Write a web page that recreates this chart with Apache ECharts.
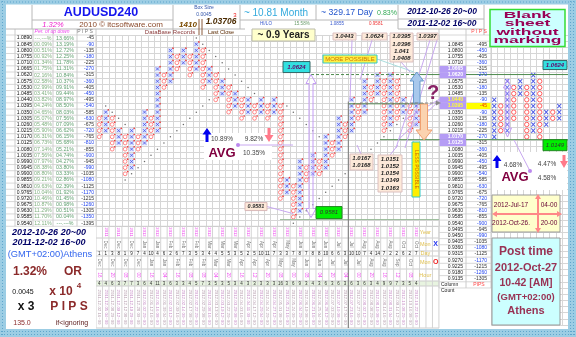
<!DOCTYPE html>
<html><head><meta charset="utf-8">
<script src="https://cdn.jsdelivr.net/npm/echarts@6/dist/echarts.min.js"></script>
<style>html,body{margin:0;padding:0;background:#fff;overflow:hidden}#c{width:576px;height:337px}</style>
</head><body><div id="c"></div>
<script>
// ================= DATA =================
const title = 'AUDUSD240';
const boxSize = 0.0045;
const topPrice = 1.0890;
const leftPrices = ['1.0890','1.0845','1.0800','1.0755','1.0710','1.0665','1.0620','1.0575','1.0530','1.0485','1.0440','1.0395','1.0350','1.0305','1.0260','1.0215','1.0170','1.0125','1.0080','1.0035','0.9990','0.9945','0.9900','0.9855','0.9810','0.9765','0.9720','0.9675','0.9630','0.9585','0.9540'];
const upPct = ['---.---%','00.09%','00.51%','00.92%','01.34%','01.75%','02.16%','02.58%','02.99%','03.41%','03.82%','04.24%','04.65%','05.07%','05.48%','05.90%','06.31%','06.73%','07.14%','07.56%','07.97%','08.38%','08.80%','09.21%','09.63%','10.04%','10.46%','10.87%','11.29%','11.70%','12.11%'];
const downPct = ['13.66%','13.19%','12.72%','12.25%','11.78%','11.31%','10.84%','10.37%','09.91%','09.44%','08.97%','08.50%','08.03%','07.56%','07.09%','06.62%','06.15%','05.68%','05.21%','04.74%','04.27%','03.80%','03.33%','02.86%','02.39%','01.92%','01.45%','00.98%','00.51%','00.04%','---.---%'];
const leftPips = ['-45','-90','-135','-180','-225','-270','-315','-360','-405','-450','-495','-540','-585','-630','-675','-720','-765','-810','-855','-900','-945','-990','-1035','-1080','-1125','-1170','-1215','-1260','-1305','-1350','-1395'];
const rightPrices = ['1.0845','1.0800','1.0755','1.0710','1.0665','1.0620','1.0575','1.0530','1.0485','1.0440','1.0395','1.0350','1.0305','1.0260','1.0215','1.0170','1.0125','1.0080','1.0035','0.9990','0.9945','0.9900','0.9855','0.9810','0.9765','0.9720','0.9675','0.9630','0.9585','0.9540','0.9495','0.9450','0.9405','0.9360','0.9315','0.9270','0.9225','0.9180','0.9135'];
const rightPips = ['-495','-450','-405','-360','-315','-270','-225','-180','-135','-90','-45','-90','-135','-180','-225','-270','-315','-360','-405','-450','-495','-540','-585','-630','-675','-720','-765','-810','-855','-900','-945','-990','-1035','-1080','-1125','-1170','-1215','-1260','-1305'];
const highlightWhite = ['1.0665','1.0620','1.0170','1.0125'];
const highlightYellow = ['1.0440','1.0395'];
const lastClosePrice = '1.0395';

// Point & figure columns: [type, top price, bottom price]
const pfColumns = [
  ['O',1.0305,1.0170],['X',1.0350,1.0215],['O',1.0305,1.0080],['X',1.0215,1.0125],
  ['O',1.0170,0.9900],['X',1.0215,0.9945],['O',1.0170,1.0080],['X',1.0350,1.0125],
  ['O',1.0305,1.0170],['X',1.0665,1.0215],['O',1.0620,1.0530],['X',1.0800,1.0575],
  ['O',1.0755,1.0665],['X',1.0800,1.0710],['O',1.0755,1.0620],['X',1.0845,1.0665],
  ['O',1.0800,1.0530],['X',1.0665,1.0575],['O',1.0620,1.0440],['X',1.0575,1.0485],
  ['O',1.0530,1.0350],['X',1.0485,1.0395],['O',1.0440,1.0305],['X',1.0440,1.0350],
  ['O',1.0395,1.0305],['X',1.0440,1.0350],['O',1.0395,1.0305],['X',1.0440,1.0350],
  ['O',1.0395,0.9720],['X',0.9855,0.9765],['O',0.9810,0.9585],['X',0.9990,0.9630],
  ['O',0.9945,0.9855],['X',1.0035,0.9900],['O',0.9990,0.9900],['X',1.0170,0.9945],
  ['O',1.0125,1.0035],['X',1.0305,1.0080],['O',1.0260,1.0170],['X',1.0440,1.0215],
  ['O',1.0395,1.0305],['X',1.0575,1.0350],['O',1.0530,1.0440],['X',1.0620,1.0485],
  ['O',1.0575,1.0215],['X',1.0620,1.0260],['O',1.0575,1.0305],['X',1.0440,1.0350],
  ['O',1.0395,1.0215],['X',1.0395,1.0260]
];
const miniColumns = [
  ['X',1.0440,1.0170],['O',1.0395,1.0215],['X',1.0575,1.0215],['O',1.0530,1.0305],
  ['X',1.0575,1.0485],['O',1.0530,1.0170],['X',1.0620,1.0215],['O',1.0575,1.0170],
  ['X',1.0350,1.0260],['O',1.0350,1.0305],['X',1.0395,1.0305]
];
// trend-line dots: [column, price]
const trendDots = [
  [1,1.0395],[2,1.0350],[3,1.0305],[4,1.0260],
  [4,0.9855],[5,0.9900],[6,0.9945],[7,0.9990],[8,1.0035],[9,1.0080],[10,1.0125],[11,1.0170],[12,1.0215],[13,1.0260],[14,1.0305],[15,1.0350],[16,1.0395],[17,1.0440],
  [15,1.0890],[16,1.0845],[17,1.0800],[18,1.0755],[19,1.0710],[20,1.0665],[21,1.0620],[22,1.0575],[23,1.0530],[24,1.0485],
  [29,1.0395],[30,1.0350],[31,1.0305],[32,1.0260],[33,1.0215],[34,1.0170],
  [30,0.9540],[31,0.9585],[32,0.9630],[33,0.9675],[34,0.9720],[35,0.9765],[36,0.9810],[37,0.9855],[38,0.9900],[39,0.9945],[40,0.9990],[41,1.0035],[42,1.0080],[43,1.0125],[44,1.0170],[45,1.0215],[46,1.0260],[47,1.0305]
];
const colDates = ['2011-12-02 16','2011-12-05 04','2011-12-08 20','2011-12-09 12','2011-12-12 08','2011-12-19 20','2011-12-28 00','2012-01-02 20','2012-01-12 16','2012-01-16 08','2012-01-30 04','2012-02-03 12','2012-02-09 16','2012-02-14 00','2012-02-17 08','2012-02-22 20','2012-02-29 08','2012-03-08 16','2012-03-13 04','2012-03-19 12','2012-03-22 20','2012-03-29 08','2012-04-03 16','2012-04-11 00','2012-04-17 12','2012-04-20 04','2012-04-24 20','2012-04-27 12','2012-05-01 08','2012-05-21 16','2012-05-24 00','2012-06-04 20','2012-06-19 08','2012-06-21 16','2012-06-25 04','2012-06-28 12','2012-07-03 20','2012-07-10 08','2012-07-17 04','2012-07-23 16','2012-07-27 00','2012-08-02 12','2012-08-08 20','2012-08-10 08','2012-08-14 16','2012-08-31 04','2012-09-14 12','2012-10-08 20','2012-10-16 08','2012-10-22 16'];
const dayRow = [1,1,3,8,1,9,7,4,10,4,6,2,6,7,3,5,3,4,4,5,5,3,5,2,5,10,11,7,3,3,7,8,7,8,8,10,6,6,3,10,10,7,4,14,7,2,2,6,2,7];
const monthNames = ['Jan','Feb','Mar','Apr','May','Jun','Jul','Aug','Sep','Oct','Nov','Dec'];
const rowTitles = ['Year','Mon','Day','Mon','Hour'];
const topLabels = ['1.0443','1.0624','1.0395\n1.0396\n1.041\n1.0408','1.0397'];
const lowLabels = ['1.0167\n1.0168','1.0151\n1.0152\n1.0154\n1.0149\n1.0163'];
const hiLevel = 1.0624, loLevel = 0.9581, midLevel = 1.0149;
const avgLeft = ['10.89%','9.82%','10.35%'];
const avgRight = ['4.68%','4.47%','4.58%'];

// ================= CHART =================
const FF = '"Liberation Sans", Arial, sans-serif';
const f = (size, style) => (style ? style + ' ' : '') + size + 'px ' + FF;
const rowOf = p => Math.round((topPrice - p) / boxSize);
const MAIN = {left:96, top:35, cols:53, rows:31, cw:6.47, rh:6.17};
const MINI = {left:491, top:35, cols:12, rows:47, cw:6.5, rh:6.17};

function boxes(cols){
  const xs=[], os=[];
  cols.forEach((c,i)=>{
    const k0=rowOf(c[1]), k1=rowOf(c[2]);
    for(let k=k0;k<=k1;k++)(c[0]==='X'?xs:os).push([i+0.5,k+0.5]);
  });
  return {xs,os};
}
const mb = boxes(pfColumns), nb = boxes(miniColumns);
const dots = trendDots.map(d=>[d[0]+0.5, rowOf(d[1])+0.5]);

const ax = {axisLine:{show:false},axisTick:{show:false},axisLabel:{show:false},splitLine:{show:true,lineStyle:{color:'#d6d6d6',width:1}}};
const chart = echarts.init(document.getElementById('c'), null, {renderer:'canvas'});
const xPath = 'path://M0,0L10,10M10,0L0,10';
chart.setOption({
  animation:false,
  backgroundColor:'#ffffff',
  grid:[
    {left:MAIN.left, top:MAIN.top, width:MAIN.cols*MAIN.cw, height:MAIN.rows*MAIN.rh},
    {left:MINI.left, top:MINI.top, width:MINI.cols*MINI.cw, height:MINI.rows*MINI.rh}
  ],
  xAxis:[
    Object.assign({gridIndex:0,type:'value',min:0,max:MAIN.cols,interval:1},ax),
    Object.assign({gridIndex:1,type:'value',min:0,max:MINI.cols,interval:1},ax)
  ],
  yAxis:[
    Object.assign({gridIndex:0,type:'value',inverse:true,min:0,max:MAIN.rows,interval:1},ax),
    Object.assign({gridIndex:1,type:'value',inverse:true,min:0,max:MINI.rows,interval:1},ax)
  ],
  series:[
    {type:'scatter',xAxisIndex:0,yAxisIndex:0,data:mb.xs,symbol:'rect',symbolSize:[5,5],itemStyle:{color:'#d2d9fc'},silent:true,z:2},
    {type:'scatter',xAxisIndex:0,yAxisIndex:0,data:mb.xs,symbol:xPath,symbolSize:[3,3],itemStyle:{color:'none',borderColor:'#3a48e6',borderWidth:0.9},silent:true,z:3},
    {type:'scatter',xAxisIndex:0,yAxisIndex:0,data:mb.os,symbol:'circle',symbolSize:3.8,itemStyle:{color:'#ffffff',borderColor:'#ff5a5a',borderWidth:0.9},silent:true,z:3},
    {type:'scatter',xAxisIndex:0,yAxisIndex:0,data:mb.xs.concat(mb.os),symbol:'circle',symbolSize:1.7,symbolOffset:[2.6,-2.3],itemStyle:{color:'#ee1111'},silent:true,z:4},
    {type:'scatter',xAxisIndex:0,yAxisIndex:0,data:dots,symbol:'circle',symbolSize:1.5,itemStyle:{color:'#444444'},silent:true,z:3},
    {type:'scatter',xAxisIndex:1,yAxisIndex:1,data:nb.xs,symbol:xPath,symbolSize:[4,4.4],itemStyle:{color:'none',borderColor:'#2233dd',borderWidth:1},silent:true,z:3},
    {type:'scatter',xAxisIndex:1,yAxisIndex:1,data:nb.os,symbol:'circle',symbolSize:4.4,itemStyle:{color:'#ffffff',borderColor:'#ff3838',borderWidth:1},silent:true,z:3}
  ]
});

// ---------- graphic overlay ----------
const G = [];
const P = (x,y,g) => chart.convertToPixel({gridIndex:g||0},[x,y]);
const pyPrice = p => P(0,(topPrice-p)/boxSize+0.5)[1];
function txt(x,y,text,font,fill,align,extra){
  G.push(Object.assign({type:'text',x:x,y:y,z:30,silent:true,style:{text:text,font:font,fill:fill,textAlign:align||'center',textVerticalAlign:'middle'}},extra||{}));
}
function rect(x,y,w,h,fill,stroke,lw,z){
  G.push({type:'rect',z:z||10,silent:true,shape:{x:x,y:y,width:w,height:h},style:{fill:fill,stroke:stroke||null,lineWidth:lw||1}});
}
function line(x1,y1,x2,y2,stroke,lw,dash,z){
  const st={stroke:stroke,lineWidth:lw||1};
  if(dash) st.lineDash=dash;
  G.push({type:'line',z:z||12,silent:true,shape:{x1:x1,y1:y1,x2:x2,y2:y2},style:st});
}
function poly(pts,fill,stroke,lw,z){
  G.push({type:'polygon',z:z||14,silent:true,shape:{points:pts},style:{fill:fill,stroke:stroke||null,lineWidth:lw||1}});
}

// blue dotted frame
const bandC = '#9ccde4';
rect(0,0,576,4.5,bandC,null,1,40); rect(0,0,6,337,bandC,null,1,40);
rect(568,0,8,337,bandC,null,1,40); rect(0,329,576,8,bandC,null,1,40);
for(let x=1;x<576;x+=3){ rect(x,1.5,1,1,'#5fa6cc',null,1,41); rect(x,331,1,1,'#5fa6cc',null,1,41); rect(x,334,1,1,'#5fa6cc',null,1,41);}
for(let y=1;y<337;y+=3){ rect(2,y,1,1,'#5fa6cc',null,1,41); rect(570,y,1,1,'#5fa6cc',null,1,41); rect(573,y,1,1,'#5fa6cc',null,1,41);}

// header cells
const hc = '#b8b8b8';
line(32,5,32,29,hc); line(173,5,173,35,hc); line(32,20,173,20,hc);
line(6,29,245,29,hc); line(240,5,240,29,hc); line(316,5,316,20,hc); line(240,20,398,20,hc);
line(398,5,398,29,hc); line(484,5,484,35,hc); line(398,19,484,19,hc); line(398,29,484,29,hc);
line(199,19,199,35,'#8b5a3a',1); line(202,19,202,35,'#8b5a3a',1);
txt(101,13,title,f(12.5,'bold'),'#1515ee');
txt(53,25,'1.32%',f(7.5,'italic'),'#ee22cc');
txt(121,25,'2010 © itcsoftware.com',f(8),'#8b4a2b');
txt(188,25,'1410',f(8,'italic bold'),'#7a4a00');
txt(170,32,'DataBase Records',f(6),'#8b3a3a');
txt(221,32,'Last Close',f(5.5),'#5a2a00');
txt(221,22,'1.03706',f(8.5,'italic bold'),'#4a2a00');
txt(204,8,'Box Size',f(5),'#3355aa'); txt(204,15,'0.0045',f(5),'#3355aa');
txt(235,15,'3',f(6),'#ee2222');
txt(276,13,'~ 10.81 Month',f(10),'#33aadd');
txt(347,13,'~ 329.17 Day',f(8.7),'#2255cc');
txt(387,13,'0.83%',f(7),'#33aa55');
txt(442,12,'2012-10-26 20~00',f(8.5,'italic bold'),'#000066');
txt(442,24,'2011-12-02 16~00',f(8.5,'italic bold'),'#000066');
txt(266,24,'HI/LO',f(4.5),'#3355cc'); txt(302,24,'15.58%',f(4.5),'#669966');
txt(337,24,'1.0855',f(4.5),'#3355cc'); txt(376,24,'0.9581',f(4.5),'#ee3333');
rect(252,29,63,12,'#ffffcc','#bbbbaa',1,20);
txt(283.5,35.5,'~ 0.9 Years',f(10,'bold'),'#222222');
txt(52,32,'Per. of up down',f(5,'italic'),'#ee44ee');
txt(85,32,'P I P S',f(5),'#777777');
txt(479,32,'P I P S',f(5),'#ff4444');
// blank sheet box
rect(490,9.5,75,37,'#ccffff','#33dd33',1.5,20);
['Blank','sheet','without','marking'].forEach((s,i)=>txt(527.5,15.3+i*8.4,s,f(9.2,'bold'),'#990055','center',{scaleX:1.9}));

// left table
for(let k=0;k<=31;k++){ const yy=MAIN.top+k*MAIN.rh; line(6,yy,96,yy,'#d8d8d8',1,null,5); }
[15,33,53,77,96].forEach(x=>line(x,29,x,226.3,'#cccccc',1,null,5));
leftPrices.forEach((p,k)=>{
  const y=P(0,k+0.5)[1];
  txt(32,y,p,f(5),'#111111','right');
  txt(43,y,upPct[k],f(5.3),'#80b080');
  txt(65,y,downPct[k],f(5.3),'#5f9f6f');
  txt(94,y,leftPips[k],f(5),Math.abs(parseInt(leftPips[k]))%90===0?'#2244ee':'#333333','right');
});

// right price column
for(let k=0;k<=41;k++){ const yy=MAIN.top+k*MAIN.rh; line(439,yy,491,yy,'#d8d8d8',1,null,5); }
[439,466,491].forEach(x=>line(x,29,x,MAIN.top+41*MAIN.rh,'#cccccc',1,null,5));
rightPrices.forEach((p,i)=>{
  const y=P(0,i+1.5)[1];
  const hw=highlightWhite.indexOf(p)>=0, hy=highlightYellow.indexOf(p)>=0;
  if(hw||hy) rect(439.5,y-3,26.5,6.1,'#b59cf5',null,1,15);
  if(p===lastClosePrice) rect(466.5,y-3,24,6.1,'#ffff00',null,1,15);
  txt(463,y,p,f(5,(hw||hy)?'bold':''),hw?'#ffffff':(hy?'#ffff33':'#222222'),'right');
  const v=rightPips[i];
  txt(487,y,v,f(5),p===lastClosePrice?'#ee3300':(Math.abs(parseInt(v))%90===0?'#2244ee':'#333333'),'right');
});
const yCol=P(0,rightPrices.length+1.5)[1];
txt(441,yCol,'Column',f(5),'#222222','left'); txt(479,yCol,'PIPS',f(5),'#ff4444');
txt(441,yCol+6.2,'Count',f(5),'#222222','left');

// bottom table
const bRows=[226.3,238,251,256,269,281,286,328];
rect(96,281,343,5,'#e8f4e0',null,1,4);
bRows.forEach(y=>line(96,y,439,y,'#cccccc',1,null,5));
for(let c=0;c<=MAIN.cols;c++){ const x=P(c,0)[0]; line(x,226.3,x,328,'#d4d4d4',1,null,5); }
pfColumns.forEach((col,c)=>{
  const x=P(c+0.5,0)[0];
  const d=colDates[c]; const mon=monthNames[parseInt(d.substr(5,2))-1];
  const rot={rotation:-Math.PI/2};
  if(col[0]==='X'){
    txt(x,232,d.substr(0,4),f(4.2),'#ee44ee','center',rot);
    txt(x,244.5,mon,f(4.5),'#777777','center',rot);
  } else {
    txt(x,262.5,mon,f(4.5),'#777777','center',rot);
    txt(x,275,d.substr(11,2),f(4.5),'#ee44ee','center',rot);
  }
  txt(x,253.6,String(dayRow[c]),f(4.5),'#222222');
  const cnt=rowOf(col[2])-rowOf(col[1])+1;
  txt(x,283.6,String(cnt),f(4.5),'#333333');
  txt(x,307,d+'~00',f(4.3),col[0]==='X'?'#c890c8':'#b8a0b0','center',rot);
});
const lx=P(50.9,0)[0];
[232,244.5,253.6,262.5,275].forEach((y,i)=>txt(lx,y,rowTitles[i],f(5.5),'#e0c050'));
txt(P(52.5,0)[0],244.5,'X',f(7,'bold'),'#2233ee');
txt(P(52.5,0)[0],262.5,'O',f(7,'bold'),'#ee2222');

// separators & level lines
line(348.3,101.5,348.3,328,'#777777',1,null,13);
const yHi=pyPrice(hiLevel), yLo=pyPrice(loLevel), yMid=pyPrice(midLevel);
line(311,yHi,412,yHi,'#4d8a4d',1,[3,2]); line(412,yHi,568,yHi,'#4d8a4d',1);
line(348.3,103.8,424,103.8,'#4d8a4d',1);
line(380,yMid,568,yMid,'#4d8a4d',1);
line(280,yLo+2,439,yLo+2,'#99bb99',1);

// boxes at levels
rect(283,yHi-13,27,11,'#33e0e0','#336666',1,20); txt(296.5,yHi-7.5,'1.0624',f(6,'italic bold'),'#660066');
rect(543,yHi-14,24,9,'#33e0e0','#336666',1,20); txt(555,yHi-9.5,'1.0624',f(6,'italic bold'),'#660066');
rect(316,yLo-11,26,12,'#00ee00','#228822',1,20); txt(329,yLo-5,'0.9581',f(6,'italic'),'#333333');
rect(543,yMid,24,11,'#00ee00','#228822',1,20); txt(555,yMid+5.5,'1.0149',f(6,'italic'),'#333333');
rect(245,yLo-15,22,8,'#fde9d9','#d9b8b8',1,20); txt(256,yLo-11,'0.9581',f(5.5,'italic bold'),'#333333');
line(267,yLo-11,293,yLo-4,'#c8a8f0',1);

// big lavender double arrow
function dArrow(x,y1,y2,hw,sw){
  poly([[x,y1],[x+hw,y1+9],[x+sw,y1+9],[x+sw,y2-9],[x+hw,y2-9],[x,y2],[x-hw,y2-9],[x-sw,y2-9],[x-sw,y1+9],[x-hw,y1+9]],'rgba(255,255,255,0.15)','#c49cf5',1,16);
}
dArrow(311,yHi,yLo,5,2);
dArrow(507.5,79,137,4,1.6);

// more / less possible
rect(323,55,54,8,'#ffee44','#33cccc',1,20); txt(350,59,'MORE POSSIBLE',f(6),'#cc7700');
rect(412,142,8,55,'#ffee00','#33cccc',1,20); txt(416,169.5,'LESS POSSIBLE',f(5),'#cc6600','center',{rotation:-Math.PI/2});
line(377,59,414,72,'#aadddd',1);

// label boxes
function lab(x,y,w,h,s){ rect(x,y,w,h,'#fde9d9','#dcc0c0',1,20); G.push({type:'text',x:x+w/2,y:y+h/2,z:30,silent:true,style:{text:s,font:f(6,'italic bold'),fill:'#222222',textAlign:'center',textVerticalAlign:'middle',lineHeight:7.2}}); }
lab(333,33,23,7,topLabels[0]); lab(362,33,25,7,topLabels[1]); lab(390,33,23,29,topLabels[2]); lab(417,33,21,7,topLabels[3]);
lab(350,154,23,16,lowLabels[0]); lab(378,155,24,37,lowLabels[1]);
// lavender connectors
line(352,40,350,101,'#c8a8f0'); line(372,40,360,80,'#c8a8f0'); line(401,62,410,72,'#c8a8f0');
line(430,40,396,148,'#c8a8f0'); line(437,40,405,148,'#c8a8f0');
line(405,120,443,97,'#c8a8f0'); line(443,97,398,140,'#c8a8f0');
line(361,154,357,145,'#c8a8f0'); line(390,155,398,145,'#c8a8f0');

// up / down arrows and question mark
poly([[416.75,72],[423.5,81],[420,81],[420,103],[413.5,103],[413.5,81],[410,81]],'#a8c8ec','#6699cc',1,18);
poly([[420.5,104],[427.5,104],[427.5,130],[432,130],[424,140],[416,130],[420.5,130]],'#fbd3b0','#f0a070',1,18);
line(360,103,438,103,'#888888',1,[3,2],18); poly([[441,103],[436,100.5],[436,105.5]],'#888888',null,1,18);
txt(433,93,'?',f(20,'bold'),'#882266');

// AVG left
rect(204,133,68,27,'#ffffff',null,1,8);
poly([[207,128],[211.5,134.5],[208.5,134.5],[208.5,142],[205.5,142],[205.5,134.5],[202.5,134.5]],'#0000ee',null,1,18);
poly([[267.5,128],[270.5,128],[270.5,135],[273.5,135],[269,142],[264.5,135],[267.5,135]],'#ff7a8a',null,1,18);
txt(222,139.5,avgLeft[0],f(6.5),'#444444'); txt(254,139.5,avgLeft[1],f(6.5),'#444444');
txt(222,153,'AVG',f(13,'bold'),'#800040'); txt(254,153,avgLeft[2],f(6.5),'#444444');
line(238,145,293,145,'#c8a8f0',1,null,17);
G.push({type:'circle',z:19,silent:true,shape:{cx:238,cy:145,r:2},style:{fill:'#bb88ee'}});

// AVG right
rect(492,152,75,38,'#ffffff',null,1,8);
poly([[497,155],[501.5,161],[498.5,161],[498.5,168],[495.5,168],[495.5,161],[492.5,161]],'#0000ee',null,1,18);
poly([[562.5,155],[565.5,155],[565.5,161],[568,161],[564,168],[560,161],[562.5,161]],'#ff7a8a',null,1,18);
txt(513,165,avgRight[0],f(6.5),'#444444'); txt(547,164,avgRight[1],f(6.5),'#444444');
txt(515,177,'AVG',f(13,'bold'),'#800040'); txt(547,178,avgRight[2],f(6.5),'#444444');
line(530,171,514,140,'#c8a8f0',1,null,17);
G.push({type:'circle',z:19,silent:true,shape:{cx:530,cy:171,r:2},style:{fill:'#bb88ee'}});

// date box
rect(492,195,68,37,'#ffffcc','#999999',1,20);
line(494,214,560,214,'#ff8888',2,null,21); line(538,196,538,231,'#ff8888',2,null,21);
poly([[492,214],[497,211],[497,217]],'#ff8888',null,1,21); poly([[562,214],[557,211],[557,217]],'#ff8888',null,1,21);
poly([[538,194],[535,199],[541,199]],'#ff8888',null,1,21); poly([[538,233],[535,228],[541,228]],'#ff8888',null,1,21);
txt(511,205,'2012-Jul-17',f(6.5),'#660033'); txt(549,205,'04-00',f(6.5),'#660033');
txt(511,223,'2012-Oct-26.',f(6.5),'#660033'); txt(549,223,'20-00',f(6.5),'#660033');

// post time box
rect(492,238,68,87,'#ccffff','#999999',1,20);
txt(526,252,'Post time',f(12,'bold'),'#993355');
txt(526,268,'2012-Oct-27',f(11,'bold'),'#993355');
txt(526,283,'10-42 [AM]',f(10.5,'bold'),'#993355');
txt(526,297.5,'(GMT+02:00)',f(9.5,'bold'),'#993355');
txt(526,311,'Athens',f(11,'bold'),'#993355');

// bottom-left info box
rect(6,227,90,101,'#ffffff',null,1,20);
txt(49,233,'2012-10-26 20~00',f(9,'italic bold'),'#000066');
txt(49,243,'2011-12-02 16~00',f(9,'italic bold'),'#000066');
txt(50,254,'(GMT+02:00)Athens',f(9.3),'#3366ee');
txt(30,272,'1.32%',f(12,'bold'),'#8b2a2a'); txt(73,272,'OR',f(12,'bold'),'#8b2a2a');
txt(23,292,'0.0045',f(7),'#111111'); txt(61,292,'x 10',f(12,'bold'),'#8b2a2a'); txt(79,286,'4',f(8,'bold'),'#8b2a2a');
txt(26,307,'x 3',f(12,'bold'),'#111111'); txt(69,307,'P I P S',f(12,'bold'),'#8b2a2a');
txt(22,323,'135.0',f(7),'#8b2a2a'); txt(72,323,'if<ignoring',f(7),'#5a1a1a');

chart.setOption({graphic:{elements:G}});
</script></body></html>
